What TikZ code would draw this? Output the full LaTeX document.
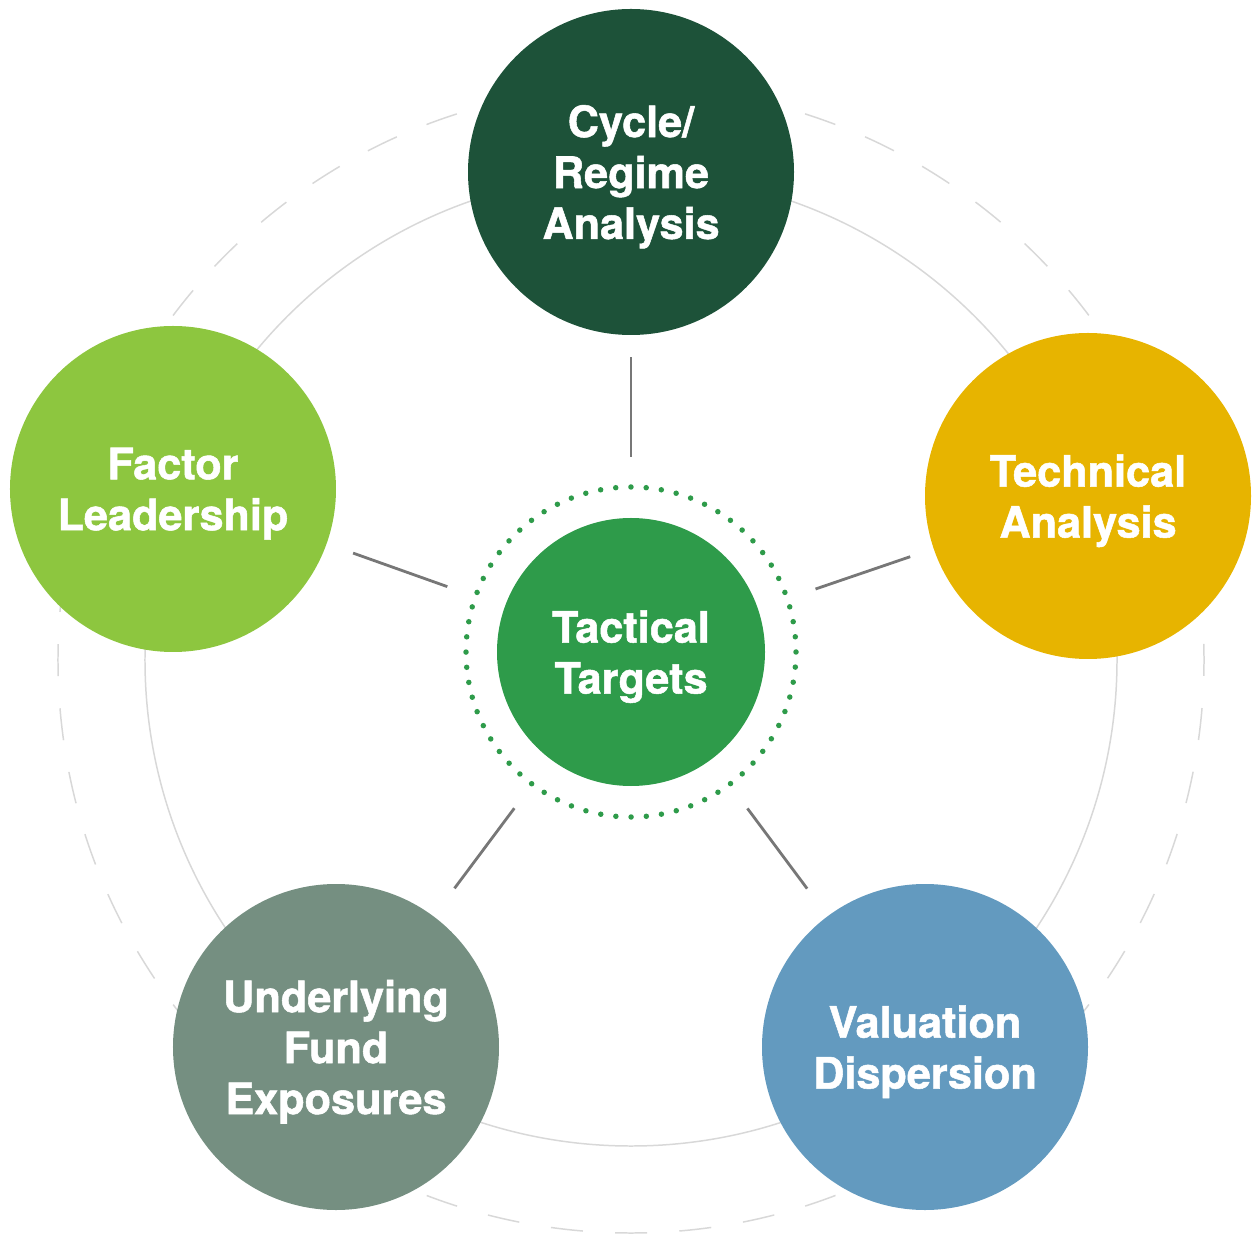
\documentclass[tikz,border=0pt]{standalone}
\usepackage{fontspec}
\setmainfont{TeX Gyre Heros}[BoldFeatures={FakeBold=1.2}]
\usetikzlibrary{calc}
\definecolor{RegimeGreen}{HTML}{1D5239}
\definecolor{TacticGreen}{HTML}{2E9B4A}
\definecolor{FactorLime}{HTML}{8DC63F}
\definecolor{TechGold}{HTML}{E7B400}
\definecolor{FundSage}{HTML}{758F81}
\definecolor{ValueBlue}{HTML}{639ABF}
\definecolor{LinkGray}{HTML}{777777}
\definecolor{RingGray}{HTML}{D8D8D8}
\begin{document}
\begin{tikzpicture}[font=\fontsize{24.6}{29}\selectfont\bfseries,
  hub/.style={circle,minimum size=6.52cm,inner sep=0pt,align=center,text=white,text depth=-4pt},
  link/.style={draw=LinkGray,line width=1.6pt}]
  \useasboundingbox (-12.62,-11.46) rectangle (12.42,13.2);
  % rings behind the nodes
  \draw[RingGray,line width=0.85pt,dash pattern=on 0.643cm off 0.643cm,dash phase=0.32cm] (0,0) circle (11.46);
  \draw[RingGray,line width=0.85pt] (0,0) circle (9.72);
  % centre
  \node[hub,fill=TacticGreen,minimum size=5.36cm] (tt) at (0,0.16) {Tactical\\Targets};
  \draw[TacticGreen,line width=0.11cm,line cap=round,dash pattern=on 0pt off 0.305cm] (tt.center) circle (3.3);
  % outer inputs
  \node[hub,fill=RegimeGreen] (cy) at (0,9.76) {Cycle/\\Regime\\Analysis};
  \node[hub,fill=TechGold] (ta) at (9.14,3.28) {Technical\\Analysis};
  \node[hub,fill=FactorLime] (fl) at (-9.16,3.42) {Factor\\Leadership};
  \node[hub,fill=FundSage] (uf) at (-5.9,-7.74) {Underlying\\Fund\\Exposures};
  \node[hub,fill=ValueBlue] (vd) at (5.88,-7.74) {Valuation\\Dispersion};
  \foreach \n in {cy,ta,fl,uf,vd}
    \draw[link] ($(tt.center)!3.9cm!(\n.center)$) -- ($(tt.center)!5.9cm!(\n.center)$);
\end{tikzpicture}
\end{document}
